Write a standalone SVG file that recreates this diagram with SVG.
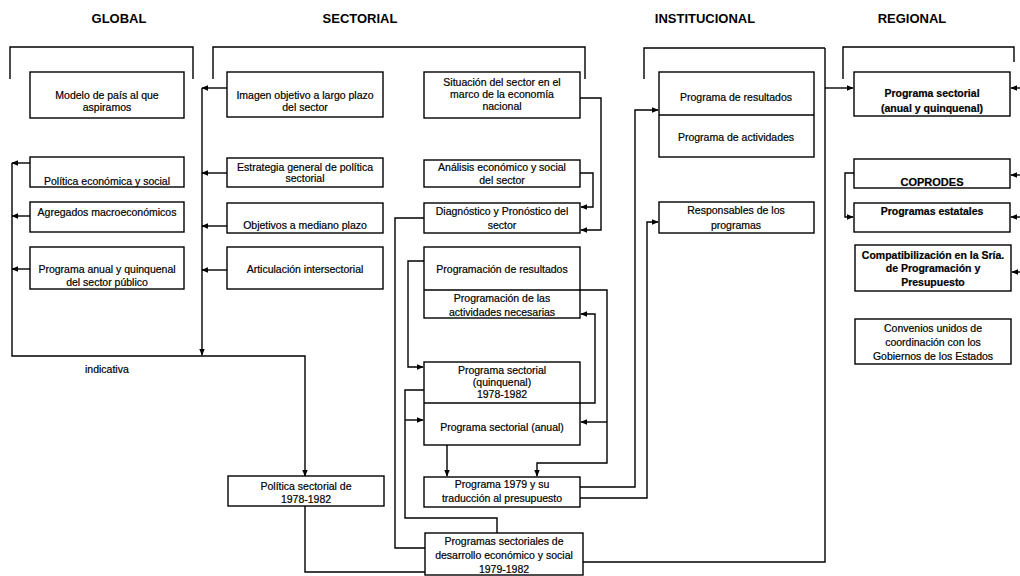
<svg xmlns="http://www.w3.org/2000/svg" width="1020" height="576" viewBox="0 0 1020 576">
<defs>
<style>
.box{fill:#fff;stroke:#000;stroke-width:1.4}
.ln{fill:none;stroke:#000;stroke-width:1.4}
.t{font-family:"Liberation Sans",Arial,sans-serif;font-size:10.5px;fill:#000;text-anchor:middle;stroke:#000;stroke-width:0.2}
.h{font-family:"Liberation Sans",Arial,sans-serif;font-size:13px;font-weight:bold;fill:#000;text-anchor:middle}
.b{font-weight:bold}
</style>
<marker id="a" viewBox="0 0 10 10" refX="9" refY="5" markerWidth="7" markerHeight="7" orient="auto" markerUnits="userSpaceOnUse"><path d="M0,1 L10,5 L0,9 z" fill="#000"/></marker>
</defs>
<rect width="1020" height="576" fill="#fff"/>

<g id="headers">
<text class="h" x="119" y="23">GLOBAL</text>
<text class="h" x="360" y="23">SECTORIAL</text>
<text class="h" x="705" y="23">INSTITUCIONAL</text>
<text class="h" x="912" y="23">REGIONAL</text>
</g>

<g id="brackets" class="ln">
<path d="M10,79 V47 H193 V79"/>
<path d="M213,79 V47 H585 V79"/>
<path d="M644,79 V48 H825"/>
<path d="M843,79 V47 H1014 V62"/>
</g>

<g id="connectors" class="ln">
<path d="M30,163 H12" marker-end="url(#a)"/>
<path d="M30,216 H12" marker-end="url(#a)"/>
<path d="M30,269 H12" marker-end="url(#a)"/>
<path d="M12,163 V356 H305 V476" marker-end="url(#a)"/>
<path d="M227,88 H202" marker-end="url(#a)"/>
<path d="M227,173 H202" marker-end="url(#a)"/>
<path d="M227,226 H202" marker-end="url(#a)"/>
<path d="M227,270 H202" marker-end="url(#a)"/>
<path d="M202,88 V355" marker-end="url(#a)"/>
<path d="M580,98 H601 V230 H581" marker-end="url(#a)"/>
<path d="M580,173 H593 V207 H581" marker-end="url(#a)"/>
<path d="M424,218 H395 V548 H425"/>
<path d="M424,261 H408 V367 H423" marker-end="url(#a)"/>
<path d="M424,390 H405 V518 H497 V533"/>
<path d="M405,420 H423" marker-end="url(#a)"/>
<path d="M580,290 H607 V463 H537 V476" marker-end="url(#a)"/>
<path d="M607,422 H581" marker-end="url(#a)"/>
<path d="M580,403 H595 V314 H581" marker-end="url(#a)"/>
<path d="M447,445 V476" marker-end="url(#a)"/>
<path d="M305,506 V572 H425"/>
<path d="M580,487 H635 V110 H658" marker-end="url(#a)"/>
<path d="M580,498 H647 V222 H658" marker-end="url(#a)"/>
<path d="M825,48 V562 H583"/>
<path d="M825,88 H853" marker-end="url(#a)"/>
<path d="M1020,88 H1011" marker-end="url(#a)"/>
<path d="M1020,175 H1011" marker-end="url(#a)"/>
<path d="M1020,217 H1011" marker-end="url(#a)"/>
<path d="M1020,272 H1012" marker-end="url(#a)"/>
<path d="M854,173 H845 V217 H853" marker-end="url(#a)"/>
</g>

<g id="n-modelo"><rect class="box" x="30" y="72" width="154" height="46"/>
<text class="t" x="107" y="99">Modelo de país al que</text><text class="t" x="107" y="111">aspiramos</text></g>
<g id="n-politica-eco"><rect class="box" x="30" y="157" width="154" height="30"/>
<text class="t" x="107" y="185">Política económica y social</text></g>
<g id="n-agregados"><rect class="box" x="30" y="202" width="154" height="30"/>
<text class="t" x="107" y="216">Agregados macroeconómicos</text></g>
<g id="n-prog-anual"><rect class="box" x="30" y="247" width="154" height="42"/>
<text class="t" x="107" y="273">Programa anual y quinquenal</text><text class="t" x="107" y="286">del sector público</text></g>

<g id="n-imagen"><rect class="box" x="227" y="72" width="156" height="45"/>
<text class="t" x="305" y="99">Imagen objetivo a largo plazo</text><text class="t" x="305" y="111">del sector</text></g>
<g id="n-estrategia"><rect class="box" x="227" y="158" width="156" height="29"/>
<text class="t" x="305" y="171">Estrategia general de política</text><text class="t" x="305" y="182">sectorial</text></g>
<g id="n-objetivos"><rect class="box" x="227" y="203" width="156" height="30"/>
<text class="t" x="305" y="229">Objetivos a mediano plazo</text></g>
<g id="n-articulacion"><rect class="box" x="227" y="247" width="156" height="42"/>
<text class="t" x="305" y="273">Articulación intersectorial</text></g>

<g id="n-situacion"><rect class="box" x="424" y="72" width="156" height="46"/>
<text class="t" x="502" y="86">Situación del sector en el</text><text class="t" x="502" y="98">marco de la economía</text><text class="t" x="502" y="110">nacional</text></g>
<g id="n-analisis"><rect class="box" x="424" y="160" width="156" height="27"/>
<text class="t" x="502" y="171">Análisis económico y social</text><text class="t" x="502" y="184">del sector</text></g>
<g id="n-diagnostico"><rect class="box" x="424" y="203" width="156" height="30"/>
<text class="t" x="502" y="215">Diagnóstico y Pronóstico del</text><text class="t" x="502" y="229">sector</text></g>
<g id="n-programacion"><rect class="box" x="424" y="247" width="156" height="71"/>
<line class="ln" x1="424" y1="290" x2="580" y2="290"/>
<text class="t" x="502" y="273">Programación de resultados</text><text class="t" x="502" y="302">Programación de las</text><text class="t" x="502" y="316">actividades necesarias</text></g>
<g id="n-prog-sectorial"><rect class="box" x="424" y="362" width="156" height="83"/>
<line class="ln" x1="424" y1="403" x2="580" y2="403"/>
<text class="t" x="502" y="374">Programa sectorial</text><text class="t" x="502" y="386">(quinquenal)</text><text class="t" x="502" y="398">1978-1982</text><text class="t" x="502" y="431">Programa sectorial (anual)</text></g>
<g id="n-prog-1979"><rect class="box" x="424" y="477" width="156" height="30"/>
<text class="t" x="502" y="488">Programa 1979 y su</text><text class="t" x="502" y="502">traducción al presupuesto</text></g>
<g id="n-politica-sect"><rect class="box" x="228" y="476" width="156" height="30"/>
<text class="t" x="306" y="490">Política sectorial de</text><text class="t" x="306" y="503">1978-1982</text></g>
<g id="n-programas-sect"><rect class="box" x="425" y="533" width="158" height="42"/>
<text class="t" x="504" y="545">Programas sectoriales de</text><text class="t" x="504" y="559">desarrollo económico y social</text><text class="t" x="504" y="573">1979-1982</text></g>
<text class="t" x="85" y="373" style="text-anchor:start">indicativa</text>

<g id="n-prog-resultados"><rect class="box" x="659" y="72" width="155" height="85"/>
<line class="ln" x1="659" y1="115" x2="814" y2="115"/>
<text class="t" x="736" y="101">Programa de resultados</text><text class="t" x="736" y="141">Programa de actividades</text></g>
<g id="n-responsables"><rect class="box" x="659" y="202" width="155" height="31"/>
<text class="t" x="736" y="214">Responsables de los</text><text class="t" x="736" y="229">programas</text></g>

<g id="n-reg-prog"><rect class="box" x="854" y="72" width="156" height="44"/>
<text class="t b" x="932" y="97">Programa sectorial</text><text class="t b" x="932" y="112">(anual y quinquenal)</text></g>
<g id="n-coprodes"><rect class="box" x="854" y="159" width="156" height="29"/>
<text class="t b" x="932" y="186" style="font-size:11px">COPRODES</text></g>
<g id="n-estatales"><rect class="box" x="854" y="203" width="156" height="29"/>
<text class="t b" x="932" y="215">Programas estatales</text></g>
<g id="n-compat"><rect class="box" x="855" y="245" width="156" height="46"/>
<text class="t b" x="933" y="259">Compatibilización en la Sría.</text><text class="t b" x="933" y="272">de Programación y</text><text class="t b" x="933" y="286">Presupuesto</text></g>
<g id="n-convenios"><rect class="box" x="855" y="319" width="156" height="45"/>
<text class="t" x="933" y="332">Convenios unidos de</text><text class="t" x="933" y="346">coordinación con los</text><text class="t" x="933" y="360">Gobiernos de los Estados</text></g>
</svg>
